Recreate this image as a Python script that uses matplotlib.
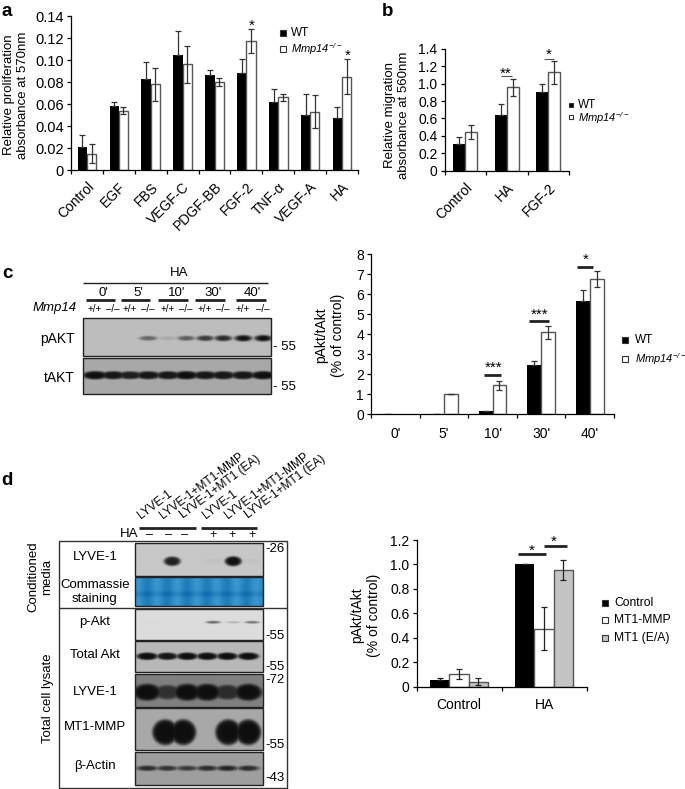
import numpy as np
import matplotlib
matplotlib.use('Agg')
import matplotlib.pyplot as plt
from matplotlib.patches import Rectangle

plt.rcParams['font.family'] = ['Liberation Sans', 'DejaVu Sans']
plt.rcParams['font.size'] = 9.5
plt.rcParams['mathtext.fontset'] = 'custom'
plt.rcParams['mathtext.rm'] = 'Liberation Sans'
plt.rcParams['mathtext.it'] = 'Liberation Sans:italic'
plt.rcParams['mathtext.sf'] = 'Liberation Sans:italic'

W, H = 685, 789
KO_LABEL = r'$\mathsf{Mmp14}^{\mathsf{-/-}}$'
GREY = '#555555'

# panel a
a_labels = ['Control', 'EGF', 'FBS', 'VEGF-C', 'PDGF-BB', 'FGF-2', 'TNF-α', 'VEGF-A', 'HA']
a_wt = [0.021, 0.058, 0.083, 0.105, 0.086, 0.088, 0.062, 0.050, 0.047]
a_wt_err = [0.011, 0.004, 0.015, 0.021, 0.005, 0.013, 0.012, 0.019, 0.010]
a_ko = [0.015, 0.054, 0.078, 0.096, 0.080, 0.117, 0.066, 0.053, 0.085]
a_ko_err = [0.009, 0.003, 0.015, 0.017, 0.004, 0.011, 0.003, 0.015, 0.016]

# panel b
b_labels = ['Control', 'HA', 'FGF-2']
b_wt = [0.30, 0.64, 0.91]
b_wt_err = [0.09, 0.13, 0.09]
b_ko = [0.44, 0.96, 1.13]
b_ko_err = [0.08, 0.10, 0.13]

# panel c
c_labels = ["0'", "5'", "10'", "30'", "40'"]
c_wt = [0, 0, 0.13, 2.45, 5.65]
c_wt_err = [0, 0, 0.03, 0.18, 0.55]
c_ko = [0, 1.0, 1.43, 4.08, 6.77]
c_ko_err = [0, 0, 0.24, 0.34, 0.40]

# panel d
d_labels = ['Control', 'HA']
d_control = [0.05, 1.0]
d_control_err = [0.02, 0]
d_mt1 = [0.105, 0.475]
d_mt1_err = [0.04, 0.175]
d_ea = [0.04, 0.955]
d_ea_err = [0.03, 0.085]

# blot lane intensities
c_lanes_x = [95, 113, 130, 148, 168, 186, 205, 223, 243, 263]
c_pakt = [0, 0, 0, 0.5, 0.12, 0.55, 0.75, 0.85, 0.98, 1.0]
c_takt = [1, 0.95, 0.9, 0.95, 0.95, 1, 0.95, 0.95, 0.95, 1]
d_lanes_x = [147, 167, 187, 207, 227, 248]
d_bands_x = [149, 172, 190, 213, 233, 252]
d_mt1_x = [147, 165, 183, 207, 228, 248]
d_lyve_media = [0, 0.9, 0, 0.03, 1, 0.03]
d_pakt = [0.02, 0, 0, 0.55, 0.2, 0.5]
d_total = [1, 0.95, 1, 1, 1, 1]
d_lyve_lys = [1, 0.7, 1, 1, 0.75, 1]
d_mt1mmp = [0, 1, 1, 0, 1, 1]
d_actin = [0.8, 0.75, 0.7, 0.8, 0.85, 0.8]

fig = plt.figure(figsize=(W / 100, H / 100), dpi=100)
over = fig.add_axes([0, 0, 1, 1], zorder=5)
over.patch.set_alpha(0)
over.axis('off')


def px_axes(left, top, right, bottom, size=10.5):
    ax = fig.add_axes([left / W, 1 - bottom / H, (right - left) / W, (bottom - top) / H])
    ax.patch.set_alpha(0)
    for s in ['top', 'right']:
        ax.spines[s].set_visible(False)
    for s in ['left', 'bottom']:
        ax.spines[s].set_linewidth(0.9)
    ax.tick_params(axis='both', which='major', length=3, width=0.9, pad=2)
    ax.tick_params(axis='y', labelsize=size)
    return ax


def setup_x(ax, labels, rotation=0, size=10, pad=7):
    n = len(labels)
    ax.set_xlim(0, n)
    ax.set_xticks(np.arange(n + 1))
    ax.set_xticklabels([])
    ax.set_xticks(np.arange(n) + 0.5, minor=True)
    if rotation:
        ax.set_xticklabels(labels, minor=True, rotation=rotation, ha='right',
                           rotation_mode='anchor', fontsize=size)
    else:
        ax.set_xticklabels(labels, minor=True, fontsize=size)
    ax.tick_params(axis='x', which='minor', length=0, pad=pad)


def two_bars(ax, wt, wt_err, ko, ko_err, w):
    x = np.arange(len(wt)) + 0.5
    ekw = dict(ecolor='#333333', elinewidth=0.9, capsize=2, capthick=0.9)
    ax.bar(x - w / 2, wt, w, color='black', yerr=[np.zeros(len(wt)), wt_err], error_kw=ekw)
    keep = np.array(ko) > 0
    ax.bar(x[keep] + w / 2, np.array(ko)[keep], w, color='white', edgecolor=GREY, linewidth=1,
           yerr=np.array(ko_err)[keep], error_kw=ekw)


def blot(box, xs, levels, y, half_w, half_h, bg=0.72, power=2):
    left, top, right, bottom = box
    xx, yy = np.meshgrid(np.arange(left, right, 0.5), np.arange(top, bottom, 0.5))
    dark = np.zeros_like(xx, dtype=float)
    for xc, lev in zip(xs, levels):
        r = ((xx - xc) / half_w) ** 2 + ((yy - y) / (half_h * (0.5 + 0.5 * lev))) ** 2
        dark = np.maximum(dark, lev * np.exp(-r ** power))
    img = bg * (1 - dark) + 0.06 * dark
    over.imshow(img, cmap='gray', vmin=0, vmax=1, extent=(left, right, bottom, top),
                aspect='auto', interpolation='bilinear')
    over.add_patch(Rectangle((left, top), right - left, bottom - top, fill=False,
                             ec='#222222', lw=1))


def pxtext(x, y, s, **kw):
    kw.setdefault('ha', 'center')
    kw.setdefault('va', 'center')
    over.text(x, y, s, **kw)


def line(x0, x1, y0, lw=2, color='#222222'):
    over.plot([x0, x1], [y0, y0], color=color, lw=lw, solid_capstyle='butt')


def legend_square(x, y, color, size=6.5):
    over.add_patch(Rectangle((x - size / 2, y - size / 2), size, size, fc=color, ec='#333333', lw=0.8))


# panel a chart
ax = px_axes(71, 16, 358, 170)
two_bars(ax, a_wt, a_wt_err, a_ko, a_ko_err, 0.29)
ax.set_ylim(0, 0.14)
ax.set_yticks([0, 0.02, 0.04, 0.06, 0.08, 0.10, 0.12, 0.14])
ax.set_yticklabels(['0', '0.02', '0.04', '0.06', '0.08', '0.10', '0.12', '0.14'])
setup_x(ax, a_labels, rotation=45)

# panel b chart
ax = px_axes(444.5, 49, 569, 170.5, size=10)
two_bars(ax, b_wt, b_wt_err, b_ko, b_ko_err, 0.29)
ax.set_ylim(0, 1.4)
ax.set_yticks(np.arange(0, 1.5, 0.2))
ax.set_yticklabels(['0', '0.2', '0.4', '0.6', '0.8', '1.0', '1.2', '1.4'])
setup_x(ax, b_labels, rotation=45)

# panel c chart
ax = px_axes(371, 254, 614, 414, size=10)
two_bars(ax, c_wt, c_wt_err, c_ko, c_ko_err, 0.285)
ax.set_ylim(0, 8)
ax.set_yticks(range(9))
setup_x(ax, c_labels, pad=9)

# panel d chart
ax = px_axes(416.5, 540, 586.5, 686.5, size=10)
x = np.arange(2) + 0.5
w = 0.225
ekw = dict(ecolor='#222222', elinewidth=0.9, capsize=2.5, capthick=0.9)
ax.bar(x - w, d_control, w, color='black', yerr=[[0, 0], d_control_err], error_kw=ekw)
ax.bar(x, d_mt1, w, color='white', edgecolor=GREY, linewidth=1, yerr=d_mt1_err, error_kw=ekw)
ax.bar(x + w, d_ea, w, color='#c4c4c4', edgecolor=GREY, linewidth=1, yerr=d_ea_err, error_kw=ekw)
ax.set_ylim(0, 1.2)
ax.set_yticks(np.arange(0, 1.3, 0.2))
ax.set_yticklabels(['0', '0.2', '0.4', '0.6', '0.8', '1.0', '1.2'])
setup_x(ax, d_labels, pad=8)

# blots, panel c
blot((83, 318, 271, 356), c_lanes_x, c_pakt, 338, 9, 3.2, bg=0.74)
blot((83, 358, 271, 394), c_lanes_x, c_takt, 375, 13, 4.2, bg=0.66, power=3)

# blots, panel d
blot((135, 543, 263, 576), d_bands_x, d_lyve_media, 561, 8.5, 5, bg=0.78, power=3)
blot((135, 609, 263, 640), d_bands_x, d_pakt, 622, 7.5, 1.8, bg=0.86)
blot((135, 641, 263, 672), d_lanes_x, d_total, 656, 11, 3.8, bg=0.72, power=3)
blot((135, 674, 263, 707), d_lanes_x, d_lyve_lys, 692, 14, 8.5, bg=0.5, power=4)
blot((135, 708, 263, 750), d_mt1_x, d_mt1mmp, 732, 13, 13, bg=0.66, power=5)
blot((135, 752, 263, 785), d_lanes_x, d_actin, 768, 11, 3.0, bg=0.62, power=2)

# coomassie panel
cx, cy = np.meshgrid(np.linspace(135, 263, 128), np.linspace(577, 606, 30))
shade = 0.5 + 0.18 * np.cos((cx - 147) / 20 * 2 * np.pi) + 0.25 * np.exp(-((cy - 594) / 3) ** 2)
blue = np.dstack([0.30 - 0.25 * shade, 0.68 - 0.28 * shade, 0.88 - 0.22 * shade])
over.imshow(blue, extent=(135, 263, 606, 577), aspect='auto', interpolation='bilinear')
over.add_patch(Rectangle((135, 577), 128, 29, fill=False, ec='#222222', lw=1))

# frame around the blots in d
over.add_patch(Rectangle((59, 541), 228, 247, fill=False, ec='#333333', lw=1))
line(59, 287, 608, lw=1, color='#333333')

# panel letters
for s, px, py in [('a', 7, 11), ('b', 388, 11), ('c', 7, 274), ('d', 7, 480)]:
    pxtext(px, py, s, fontsize=13.5, fontweight='bold')

# axis titles
pxtext(16, 95, 'Relative proliferation\nabsorbance at 570nm', rotation=90, linespacing=1.3)
pxtext(397, 115, 'Relative migration\nabsorbance at 560nm', rotation=90, linespacing=1.3)
pxtext(330, 335, 'pAkt/tAkt\n(% of control)', rotation=90, fontsize=10, linespacing=1.25)
pxtext(366, 615, 'pAkt/tAkt\n(% of control)', rotation=90, fontsize=10, linespacing=1.25)

# legends
legend_square(283, 33, 'black')
pxtext(291, 33, 'WT', ha='left', fontsize=8.5)
legend_square(283, 49, 'white')
pxtext(291, 49, KO_LABEL, ha='left', fontsize=8)
legend_square(571, 105, 'black', 4.5)
pxtext(578, 105, 'WT', ha='left', fontsize=8.5)
legend_square(571, 117, 'white', 4.5)
pxtext(578, 118, KO_LABEL, ha='left', fontsize=8)
legend_square(625, 340, 'black')
pxtext(635, 340, 'WT', ha='left', fontsize=8.5)
legend_square(625, 359, 'white')
pxtext(635, 359, KO_LABEL, ha='left', fontsize=8)
legend_square(605, 603, 'black')
pxtext(614, 603, 'Control', ha='left', fontsize=8.7)
legend_square(605, 620, 'white')
pxtext(614, 620, 'MT1-MMP', ha='left', fontsize=8.7)
legend_square(605, 638, '#c4c4c4')
pxtext(614, 638, 'MT1 (E/A)', ha='left', fontsize=8.7)

# significance marks
for sx, sy, s in [(252, 26, '*'), (348, 56, '*'), (506, 74, '**'), (549, 55, '*'),
                  (494, 368, '***'), (540, 315, '***'), (586, 260, '*'),
                  (532, 551, '*'), (554, 542, '*')]:
    pxtext(sx, sy, s, fontsize=11)
line(501, 512, 76, lw=0.8, color=GREY)
line(544, 554, 59, lw=0.8, color=GREY)
line(484, 501, 375)
line(529, 549, 321)
line(577, 593, 267)
line(518, 546, 554)
line(544, 567, 546)

# panel c blot labels
pxtext(179, 273, 'HA', fontsize=9.5)
line(83, 268, 283, lw=1)
for s, tx, x0, x1 in zip(c_labels, [103, 138, 177, 213, 252],
                         [86, 121, 158, 195, 236], [115, 150, 188, 225, 266]):
    pxtext(tx, 293, s, fontsize=9.5)
    line(x0, x1, 300)
pxtext(77, 308, 'Mmp14', ha='right', fontstyle='italic', fontsize=9.5)
for i, lx in enumerate(c_lanes_x):
    pxtext(lx, 309, '+/+' if i % 2 == 0 else '–/–', fontsize=7)
pxtext(75, 339, 'pAKT', ha='right', fontsize=10)
pxtext(75, 378, 'tAKT', ha='right', fontsize=10)
pxtext(273, 347, '- 55', ha='left', fontsize=9.5)
pxtext(273, 387, '- 55', ha='left', fontsize=9.5)

# panel d blot labels
d_names = ['LYVE-1', 'LYVE-1+MT1-MMP', 'LYVE-1+MT1 (EA)'] * 2
for s, lx in zip(d_names, [143, 165, 185, 208, 230, 250]):
    over.text(lx, 521, s, rotation=37, ha='left', va='bottom', rotation_mode='anchor', fontsize=8.5)
line(139, 196, 528)
line(201, 257, 528)
pxtext(138, 534, 'HA', ha='right', fontsize=9.5)
for s, lx in zip(['–', '–', '–', '+', '+', '+'], [150, 169, 185, 213, 232, 252]):
    pxtext(lx, 535, s, fontsize=9)
pxtext(95, 557, 'LYVE-1', fontsize=9.5)
pxtext(95, 592, 'Commassie\nstaining', fontsize=9.5, linespacing=1.15)
pxtext(95, 622, 'p-Akt', fontsize=9.5)
pxtext(95, 655, 'Total Akt', fontsize=9.5)
pxtext(95, 692, 'LYVE-1', fontsize=9.5)
pxtext(95, 727, 'MT1-MMP', fontsize=9.5)
pxtext(95, 766, 'β-Actin', fontsize=9.5)
for s, my in [('-26', 549), ('-55', 636), ('-55', 667), ('-72', 680), ('-55', 745), ('-43', 778)]:
    pxtext(265, my, s, ha='left', fontsize=9.5)
pxtext(40, 577, 'Conditioned\nmedia', rotation=90, fontsize=9.5, linespacing=1.2)
pxtext(48, 698, 'Total cell lysate', rotation=90, fontsize=9.5)

over.set_xlim(0, W)
over.set_ylim(H, 0)
fig.savefig('out.png', dpi=100)
